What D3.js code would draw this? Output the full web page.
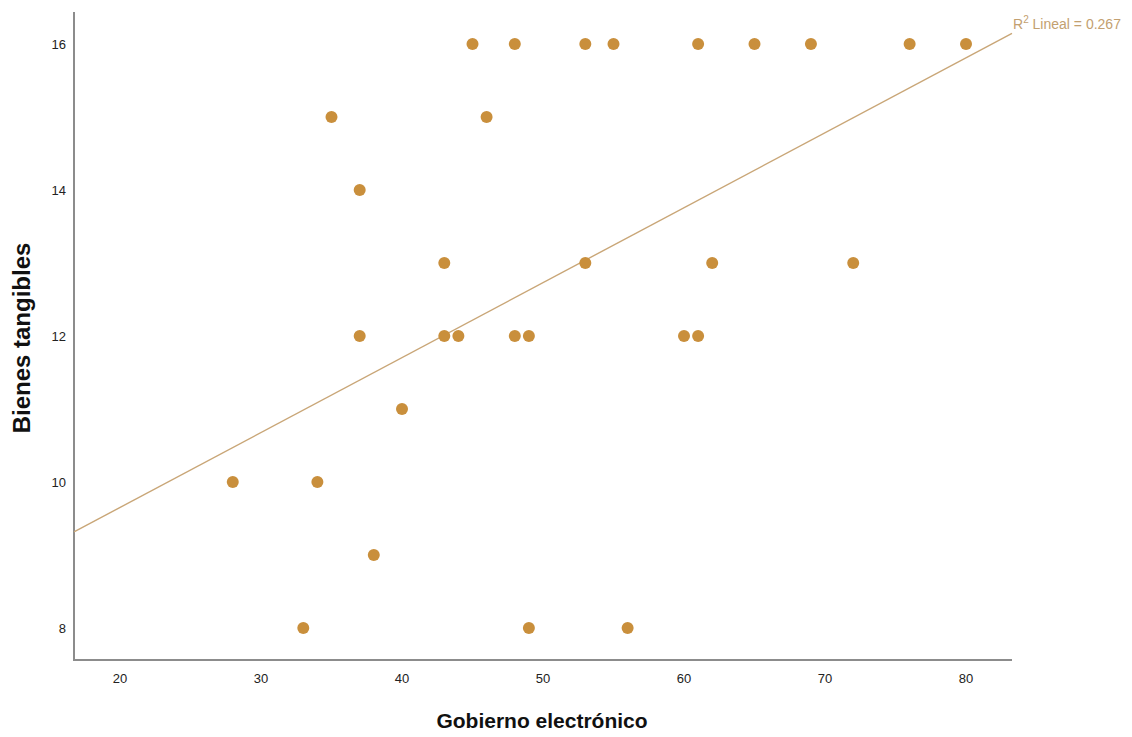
<!DOCTYPE html>
<html>
<head>
<meta charset="utf-8">
<script src="https://cdn.jsdelivr.net/npm/d3@7"></script>
<style>
  body { margin: 0; background: #fff; }
  svg { display: block; font-family: "Liberation Sans", Arial, sans-serif; }
  .tick-label { font-size: 13px; fill: #222; }
  .axis-title { font-weight: bold; fill: #111; }
</style>
</head>
<body>
<div id="chart"></div>
<script>
// Gobierno electrónico (x) vs Bienes tangibles (y)
const gobierno = [45, 48, 53, 55, 61, 65, 69, 76, 80, 35, 46, 37, 43, 53, 62, 72, 37, 43, 44, 48, 49, 60, 61, 40, 28, 34, 38, 33, 49, 56];
const bienes   = [16, 16, 16, 16, 16, 16, 16, 16, 16, 15, 15, 14, 13, 13, 13, 13, 12, 12, 12, 12, 12, 12, 12, 11, 10, 10, 9, 8, 8, 8];

const xTicks = [20, 30, 40, 50, 60, 70, 80];
const yTicks = [8, 10, 12, 14, 16];

// fitted line
const fitIntercept = 7.596;
const fitSlope = 0.1027;
const fitLabel = "Lineal = 0.267";

const W = 1132, H = 737;
const svg = d3.select("#chart").append("svg")
    .attr("width", W)
    .attr("height", H);

const x = d3.scaleLinear().domain([16.74, 83.26]).range([74, 1012]);
const y = d3.scaleLinear().domain([7.56, 16.44]).range([660, 12]);

// axis lines
svg.append("line")
    .attr("x1", x.range()[0]).attr("x2", x.range()[1])
    .attr("y1", y.range()[0]).attr("y2", y.range()[0])
    .attr("stroke", "#8c8c8c").attr("stroke-width", 2);
svg.append("line")
    .attr("x1", x.range()[0]).attr("x2", x.range()[0])
    .attr("y1", y.range()[0] + 1).attr("y2", y.range()[1])
    .attr("stroke", "#8c8c8c").attr("stroke-width", 2);

// tick labels
svg.selectAll(".xt")
    .data(xTicks)
    .enter().append("text")
    .attr("class", "tick-label")
    .attr("x", d => x(d))
    .attr("y", 683)
    .attr("text-anchor", "middle")
    .text(d => d);

svg.selectAll(".yt")
    .data(yTicks)
    .enter().append("text")
    .attr("class", "tick-label")
    .attr("x", 66)
    .attr("y", d => y(d) + 5)
    .attr("text-anchor", "end")
    .text(d => d);

// axis titles
svg.append("text")
    .attr("class", "axis-title")
    .attr("x", 542)
    .attr("y", 728)
    .attr("text-anchor", "middle")
    .style("font-size", "21px")
    .text("Gobierno electrónico");

svg.append("text")
    .attr("class", "axis-title")
    .attr("transform", "translate(30,338) rotate(-90)")
    .attr("text-anchor", "middle")
    .style("font-size", "24px")
    .text("Bienes tangibles");

// fit line
const xd = x.domain();
svg.append("line")
    .attr("x1", x(xd[0])).attr("y1", y(fitIntercept + fitSlope * xd[0]))
    .attr("x2", x(xd[1])).attr("y2", y(fitIntercept + fitSlope * xd[1]))
    .attr("stroke", "#c9a677").attr("stroke-width", 1.4);

const lbl = svg.append("text")
    .attr("x", x(xd[1]) + 1)
    .attr("y", 29)
    .style("font-size", "14px")
    .style("fill", "#c3a070");
lbl.append("tspan").text("R");
lbl.append("tspan").attr("dy", -6).style("font-size", "10px").text("2");
lbl.append("tspan").attr("dy", 6).text(" " + fitLabel);

// points
svg.selectAll(".pt")
    .data(gobierno)
    .enter().append("circle")
    .attr("cx", d => x(d))
    .attr("cy", (d, i) => y(bienes[i]))
    .attr("r", 6)
    .attr("fill", "#c98f3c");
</script>
</body>
</html>
